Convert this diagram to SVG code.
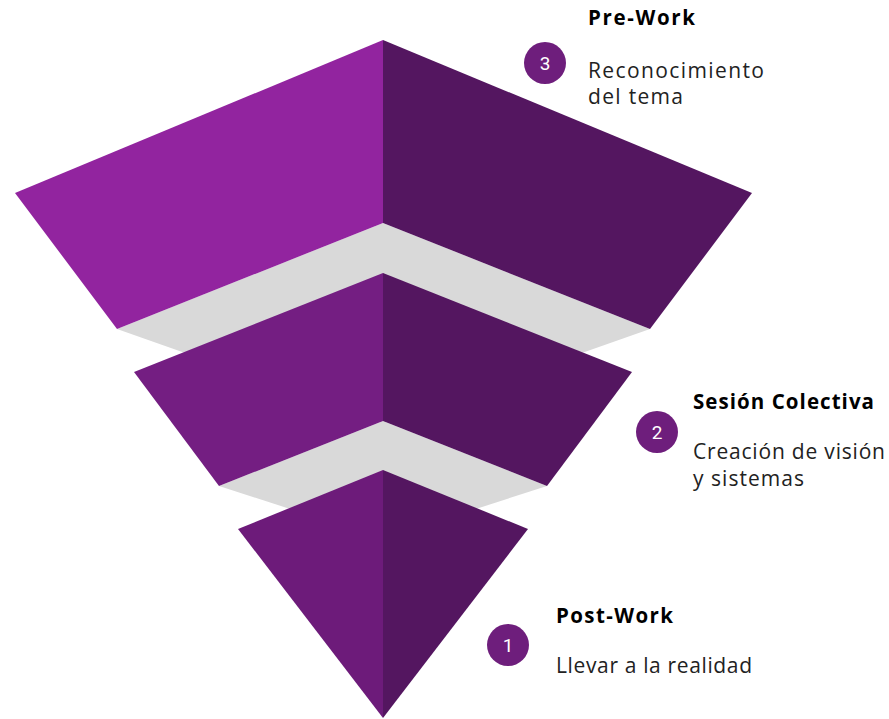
<svg xmlns="http://www.w3.org/2000/svg" width="889" height="719" viewBox="0 0 889 719">
<style>
.gray{fill:#D9D9D9}
.dark{fill:#541660}
.title{font-family:"Open Sans","Noto Sans",sans-serif;font-weight:700;font-size:20.5px;fill:#000}
.desc{font-family:"Open Sans","Noto Sans",sans-serif;font-size:21px;fill:#222}
.badge{fill:#6E1E7C}
.num{font-family:Roboto,"Liberation Sans",sans-serif;font-size:19px;fill:#fff;text-anchor:middle}
</style>
<rect width="889" height="719" fill="#fff"/>
<g id="bands">
<polygon class="gray" points="117,329 383,223 650,329 383,423"/>
<polygon class="gray" points="219,486 383,421 547,486 383,539"/>
</g>
<g id="layer-top">
<polygon fill="#92249F" points="383,40 15,193 117,329 383,223"/>
<polygon class="dark" points="383,40 752,193 650,329 383,223"/>
</g>
<g id="layer-mid">
<polygon fill="#741E82" points="383,273 134,372 219,486 383,421"/>
<polygon class="dark" points="383,273 632,372 547,486 383,421"/>
</g>
<g id="layer-bottom">
<polygon fill="#6D1B7A" points="383,470 238,529 383,718"/>
<polygon class="dark" points="383,470 528,529 383,718"/>
</g>
<g id="step3">
<circle class="badge" cx="545" cy="63" r="21"/>
<text class="num" x="545" y="70">3</text>
<text class="title" x="588" y="25" textLength="107">Pre-Work</text>
<text class="desc" x="588" y="78" textLength="176">Reconocimiento</text>
<text class="desc" x="588" y="104" textLength="95">del tema</text>
</g>
<g id="step2">
<circle class="badge" cx="657" cy="432" r="21"/>
<text class="num" x="657" y="439">2</text>
<text class="title" x="693" y="409" textLength="181">Sesión Colectiva</text>
<text class="desc" x="693" y="459" textLength="192">Creación de visión</text>
<text class="desc" x="693" y="486" textLength="111">y sistemas</text>
</g>
<g id="step1">
<circle class="badge" cx="508" cy="645" r="21"/>
<text class="num" x="508" y="652">1</text>
<text class="title" x="556" y="623" textLength="117">Post-Work</text>
<text class="desc" x="556" y="673" textLength="196">Llevar a la realidad</text>
</g>
<g id="connectors"/>
</svg>
